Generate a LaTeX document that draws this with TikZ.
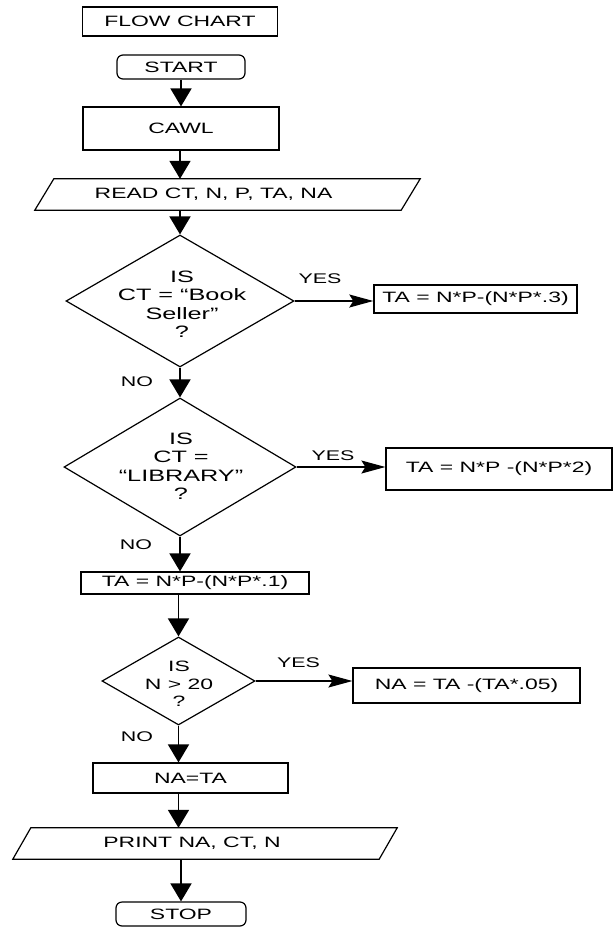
\documentclass[tikz,border=0pt]{standalone}
\usepackage{fontspec}
\setmainfont{Liberation Sans}[FakeStretch=1.53]
\usetikzlibrary{arrows.meta,shapes.geometric,calc}
\tikzset{
  box/.style={draw, line width=1.2pt, inner sep=0pt, font=\fontsize{15}{18}\selectfont},
  rbox/.style={box, rounded corners=6pt},
  paratext/.style={inner sep=0pt, font=\fontsize{15}{18}\selectfont},
  paraline/.style={line width=1.2pt, line join=miter},
  dia/.style={draw, diamond, line width=1.2pt, inner sep=0pt},
  dtext/.style={align=center, inner sep=0pt, font=\fontsize{16.5}{18.5}\selectfont},
  dtextsmall/.style={align=center, inner sep=0pt, font=\fontsize{15}{17.5}\selectfont},
  lbl/.style={inner sep=0pt, font=\fontsize{14}{16}\selectfont},
  arr/.style={line width=1.8pt, -{Triangle[width=21pt,length=18pt]}},
  harr/.style={line width=1.4pt, -{Stealth[width=13pt,length=24pt,inset=4pt]}}
}
\begin{document}
\begin{tikzpicture}[x=1pt,y=-1pt]
\useasboundingbox (0,0) rectangle (615,927);

% nodes
\node[box, minimum width=195pt, minimum height=29pt] (title) at (180,21.5) {FLOW CHART};
\node[rbox, minimum width=128pt, minimum height=24pt] (start) at (181,67) {START};
\node[box, minimum width=196pt, minimum height=43pt] (cawl) at (181,128.5) {CAWL};
\node[paratext, minimum width=366pt, minimum height=31pt] (read) at (227.5,194.5) {READ CT, N, P, TA, NA\hspace*{28pt}};
\draw[paraline] ($(read.north west)+(9.5,0)$) -- ($(read.north east)+(9.5,0)$) -- ($(read.south east)+(-9.5,0)$) -- ($(read.south west)+(-9.5,0)$) -- cycle;

\node[dia, minimum width=228pt, minimum height=132pt] (d1) at (180,301) {};
\node[dtext] (d1t) at (182,304) {IS\\CT = “Book\\Seller”\\?};
\node[box, minimum width=203pt, minimum height=28pt, line width=1.4pt] (ta1) at (475.5,299) {TA = N*P-(N*P*.3)};
\node[lbl] (yes1) at (320,279) {YES};
\node[lbl] (no1) at (137,382) {NO};

\node[dia, minimum width=232pt, minimum height=138pt] (d2) at (180,467) {};
\node[dtext] (d2t) at (181,466) {IS\\CT =\\“LIBRARY”\\?};
\node[box, minimum width=226pt, minimum height=42pt] (ta2) at (499,469) {TA = N*P -(N*P*2)};
\node[lbl] (yes2) at (333,456) {YES};
\node[lbl] (no2) at (136,545) {NO};

\node[box, minimum width=228pt, minimum height=22pt] (ta3) at (195,583) {TA = N*P-(N*P*.1)};

\node[dia, minimum width=153pt, minimum height=88pt] (d3) at (178.5,681) {};
\node[dtextsmall] (d3t) at (179,684) {IS\\N > 20\\?};
\node[box, minimum width=227pt, minimum height=35pt] (na) at (466.5,685.5) {NA = TA -(TA*.05)};
\node[lbl] (yes3) at (298.5,663) {YES};
\node[lbl] (no3) at (137,737) {NO};

\node[box, minimum width=195pt, minimum height=30pt] (nata) at (190.5,778) {NA=TA};
\node[paratext, minimum width=366pt, minimum height=31pt] (print) at (205,843.5) {PRINT NA, CT, N\hspace*{26pt}};
\draw[paraline] ($(print.north west)+(9,0)$) -- ($(print.north east)+(9,0)$) -- ($(print.south east)+(-9,0)$) -- ($(print.south west)+(-9,0)$) -- cycle;
\node[rbox, minimum width=130pt, minimum height=24pt] (stop) at (181,914) {STOP};

% connectors
\draw[arr] (start) -- (cawl);
\draw[arr] (d1.north |- cawl.south) -- (d1.north |- read.north);
\draw[arr] (d1.north |- read.south) -- (d1.north);
\draw[harr] (d1.east) -- (d1.east -| ta1.west);
\draw[arr] (d1.south) -- (d2.north);
\draw[harr] (d2.east) -- (d2.east -| ta2.west);
\draw[arr] (d2.south) -- (d2.south |- ta3.north);
\draw[arr] (d3.north |- ta3.south) -- (d3.north);
\draw[harr] (d3.east) -- (d3.east -| na.west);
\draw[arr] (d3.south) -- (d3.south |- nata.north);
\draw[arr] (d3.south |- nata.south) -- (d3.south |- print.north);
\draw[arr] (stop.north |- print.south) -- (stop.north);
\end{tikzpicture}
\end{document}
